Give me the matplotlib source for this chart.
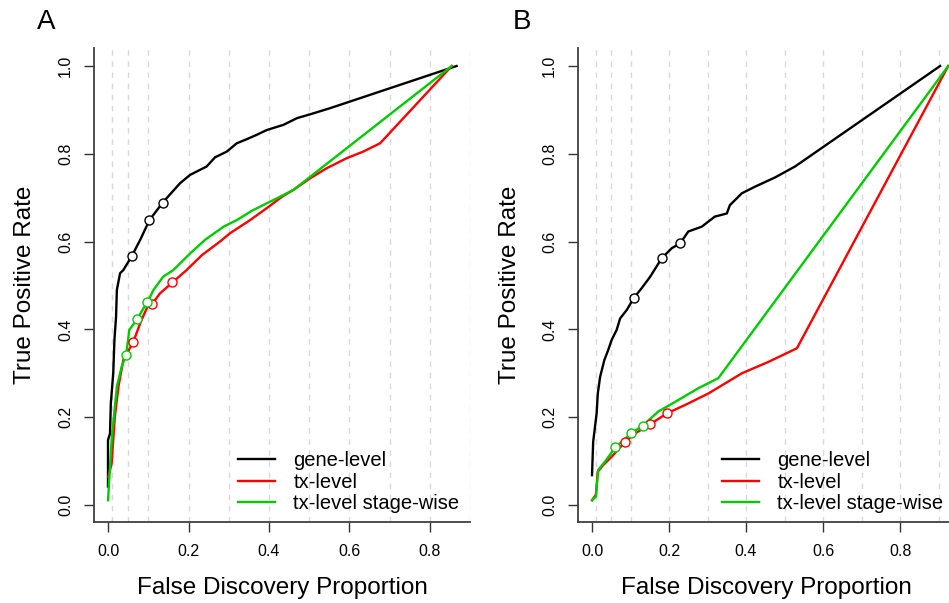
import matplotlib
matplotlib.use("Agg")
import matplotlib.pyplot as plt

plt.rcParams['font.family'] = ['Liberation Sans', 'DejaVu Sans']

# ---------------- Panel A data ----------------
a_gene_fdp = [0.0, 0.0, 0.005, 0.007, 0.013, 0.016, 0.020, 0.022, 0.030, 0.038, 0.059, 0.080, 0.103, 0.136,
              0.179, 0.204, 0.245, 0.266, 0.295, 0.320, 0.344, 0.369, 0.394, 0.436, 0.469, 0.506, 0.552, 0.866]
a_gene_tpr = [0.042, 0.148, 0.163, 0.232, 0.300, 0.376, 0.429, 0.490, 0.528, 0.535, 0.567, 0.604, 0.649, 0.689,
              0.733, 0.752, 0.771, 0.792, 0.805, 0.824, 0.833, 0.843, 0.854, 0.866, 0.881, 0.891, 0.904, 1.0]
a_tx_fdp = [0.001, 0.009, 0.017, 0.026, 0.038, 0.063, 0.080, 0.098, 0.109, 0.129, 0.160, 0.195, 0.233, 0.278,
            0.303, 0.353, 0.394, 0.432, 0.461, 0.502, 0.543, 0.593, 0.634, 0.676, 0.854]
a_tx_tpr = [0.064, 0.095, 0.201, 0.270, 0.330, 0.372, 0.414, 0.452, 0.457, 0.482, 0.507, 0.535, 0.569, 0.600,
            0.619, 0.649, 0.676, 0.702, 0.718, 0.744, 0.767, 0.790, 0.805, 0.824, 1.0]
a_sw_fdp = [0.0, 0.009, 0.022, 0.034, 0.045, 0.053, 0.073, 0.088, 0.098, 0.113, 0.137, 0.162, 0.204, 0.241,
            0.287, 0.320, 0.357, 0.394, 0.427, 0.461, 0.854]
a_sw_tpr = [0.011, 0.148, 0.270, 0.315, 0.342, 0.399, 0.424, 0.448, 0.462, 0.490, 0.520, 0.535, 0.573, 0.604,
            0.634, 0.649, 0.670, 0.687, 0.702, 0.718, 1.0]
# points at FDR thresholds 0.01, 0.05, 0.1
a_gene_pts_fdp = [0.059, 0.103, 0.136]
a_gene_pts_tpr = [0.567, 0.649, 0.689]
a_tx_pts_fdp = [0.063, 0.109, 0.160]
a_tx_pts_tpr = [0.372, 0.457, 0.507]
a_sw_pts_fdp = [0.045, 0.073, 0.098]
a_sw_pts_tpr = [0.342, 0.424, 0.462]

# ---------------- Panel B data ----------------
b_gene_fdp = [0.0, 0.003, 0.012, 0.015, 0.021, 0.032, 0.042, 0.051, 0.064, 0.073, 0.090, 0.109, 0.129, 0.151,
              0.181, 0.207, 0.229, 0.250, 0.285, 0.319, 0.350, 0.358, 0.389, 0.423, 0.475, 0.527, 0.904]
b_gene_tpr = [0.068, 0.144, 0.209, 0.254, 0.292, 0.330, 0.353, 0.376, 0.399, 0.425, 0.444, 0.472, 0.494, 0.520,
              0.562, 0.585, 0.596, 0.623, 0.634, 0.657, 0.664, 0.683, 0.710, 0.725, 0.746, 0.771, 1.0]
b_tx_fdp = [0.0, 0.010, 0.015, 0.029, 0.051, 0.086, 0.112, 0.151, 0.195, 0.242, 0.302, 0.389, 0.458, 0.532, 0.925]
b_tx_tpr = [0.011, 0.023, 0.076, 0.091, 0.110, 0.144, 0.163, 0.184, 0.209, 0.228, 0.254, 0.300, 0.326, 0.357, 1.0]
b_sw_fdp = [0.0, 0.010, 0.016, 0.034, 0.060, 0.101, 0.132, 0.172, 0.216, 0.276, 0.328, 0.925]
b_sw_tpr = [0.011, 0.019, 0.080, 0.099, 0.131, 0.163, 0.181, 0.213, 0.235, 0.266, 0.289, 1.0]
b_gene_pts_fdp = [0.109, 0.181, 0.229]
b_gene_pts_tpr = [0.472, 0.562, 0.596]
b_tx_pts_fdp = [0.086, 0.151, 0.195]
b_tx_pts_tpr = [0.144, 0.184, 0.209]
b_sw_pts_fdp = [0.060, 0.101, 0.132]
b_sw_pts_tpr = [0.131, 0.163, 0.181]

series_labels = ["gene-level", "tx-level", "tx-level stage-wise"]
series_colors = ["#000000", "#FF0000", "#00CD00"]
thresholds = [0.01, 0.05, 0.1, 0.2, 0.3, 0.4, 0.5, 0.6, 0.7, 0.8, 0.9]
xticks = [0.0, 0.2, 0.4, 0.6, 0.8]
yticks = [0.0, 0.2, 0.4, 0.6, 0.8, 1.0]

W, H = 949, 603
fig = plt.figure(figsize=(W / 100, H / 100), dpi=100)


def px_axes(l, r, t, b):
    return fig.add_axes([l / W, 1 - b / H, (r - l) / W, (b - t) / H])


def draw_panel(ax, curves, pts, xlim, letter, letter_x, xlabel_x, ylabel_x, leg_x):
    for th in thresholds:
        ax.axvline(th, color="#D9D9D9", lw=1.0, dashes=(4, 4), zorder=0)
    handles = []
    for (fx, ty), col, lab in zip(curves, series_colors, series_labels):
        h, = ax.plot(fx, ty, color=col, lw=1.7, label=lab, zorder=2)
        handles.append(h)
    for (px, py), col in zip(pts, series_colors):
        ax.plot(px, py, 'o', ms=6.5, mfc='white', mec=col, mew=1.0, zorder=3)
    ax.set_xlim(*xlim)
    ax.set_ylim(-0.0387, 1.041)
    ax.set_xticks(xticks)
    ax.set_yticks(yticks)
    ax.set_xticklabels([f"{v:.1f}" for v in xticks])
    ax.set_yticklabels([f"{v:.1f}" for v in yticks], rotation=90, va='center')
    for s in ["top", "right"]:
        ax.spines[s].set_visible(False)
    for s in ["left", "bottom"]:
        ax.spines[s].set_color("#404040")
        ax.spines[s].set_linewidth(1.3)
    ax.tick_params(axis='both', length=7.2, width=1.0, color="#333333", labelsize=11.5)
    ax.tick_params(axis='x', pad=9)
    ax.tick_params(axis='y', pad=8)
    ax.legend(handles=handles, loc='lower left', frameon=False, fontsize=14.5,
              handlelength=1.85, handletextpad=0.9, labelspacing=0.12,
              borderpad=0, borderaxespad=0,
              bbox_to_anchor=(leg_x / W, 1 - 513 / H), bbox_transform=fig.transFigure)
    fig.text(letter_x / W, 1 - 22 / H, letter, fontsize=20, ha='center', va='center')
    fig.text(xlabel_x / W, 1 - 588 / H, "False Discovery Proportion", fontsize=17.5, ha='center', va='center')
    fig.text(ylabel_x / W, 1 - 285 / H, "True Positive Rate", fontsize=17.5, ha='center', va='center',
             rotation=90)


axA = px_axes(94, 470, 48, 522)
draw_panel(axA,
           [(a_gene_fdp, a_gene_tpr), (a_tx_fdp, a_tx_tpr), (a_sw_fdp, a_sw_tpr)],
           [(a_gene_pts_fdp, a_gene_pts_tpr), (a_tx_pts_fdp, a_tx_pts_tpr), (a_sw_pts_fdp, a_sw_pts_tpr)],
           (-0.0348, 0.8994), "A", 46, 282, 25, 238)

axB = px_axes(578, 949, 48, 522)
draw_panel(axB,
           [(b_gene_fdp, b_gene_tpr), (b_tx_fdp, b_tx_tpr), (b_sw_fdp, b_sw_tpr)],
           [(b_gene_pts_fdp, b_gene_pts_tpr), (b_tx_pts_fdp, b_tx_pts_tpr), (b_sw_pts_fdp, b_sw_pts_tpr)],
           (-0.0364, 0.927), "B", 522, 766, 510, 722)

fig.savefig("out.png", dpi=100)
